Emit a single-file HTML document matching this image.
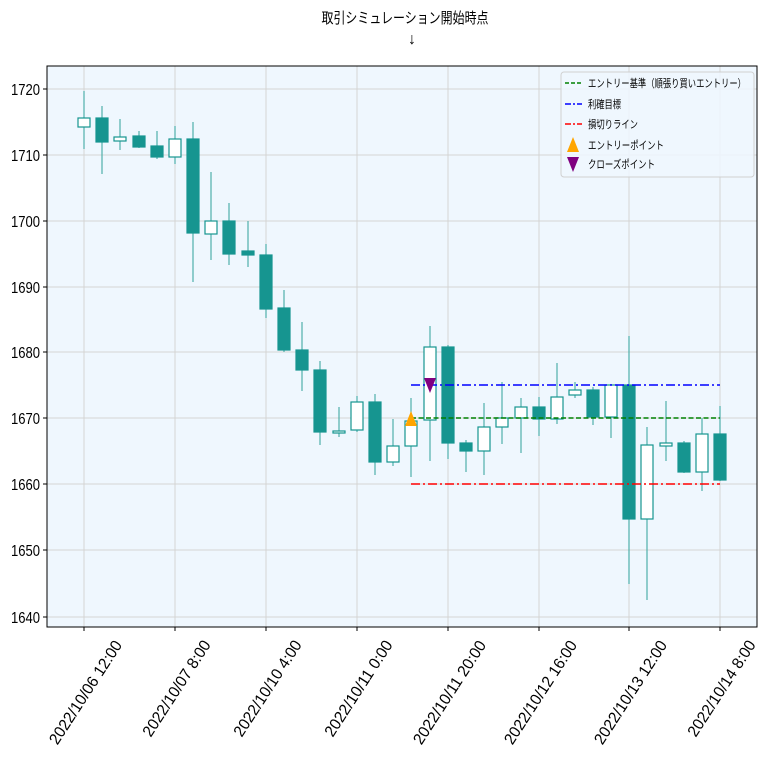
<!DOCTYPE html>
<html><head><meta charset="utf-8"><style>
html,body{margin:0;padding:0;background:#fff;}
svg{display:block;font-family:"Liberation Sans","Noto Sans CJK JP",sans-serif;}
</style></head><body>
<svg width="764" height="764" viewBox="0 0 764 764" xmlns="http://www.w3.org/2000/svg">
<rect x="0" y="0" width="764" height="764" fill="#fff"/>
<rect x="47" y="66" width="710" height="561" fill="#eff7fe"/>
<g stroke="#d4d4d4" stroke-width="1">
<line x1="47" x2="757" y1="89" y2="89"/><line x1="47" x2="757" y1="155" y2="155"/><line x1="47" x2="757" y1="221" y2="221"/><line x1="47" x2="757" y1="287" y2="287"/><line x1="47" x2="757" y1="352" y2="352"/><line x1="47" x2="757" y1="418" y2="418"/><line x1="47" x2="757" y1="484" y2="484"/><line x1="47" x2="757" y1="550" y2="550"/><line x1="47" x2="757" y1="617" y2="617"/>
<line y1="66" y2="627" x1="84" x2="84"/><line y1="66" y2="627" x1="175" x2="175"/><line y1="66" y2="627" x1="266" x2="266"/><line y1="66" y2="627" x1="357" x2="357"/><line y1="66" y2="627" x1="448" x2="448"/><line y1="66" y2="627" x1="539" x2="539"/><line y1="66" y2="627" x1="629" x2="629"/><line y1="66" y2="627" x1="720" x2="720"/>
</g>
<g stroke="#4fb0aa" stroke-width="1.2">
<line x1="84" x2="84" y1="91" y2="149"/><line x1="102" x2="102" y1="106" y2="174"/><line x1="120" x2="120" y1="119" y2="150"/><line x1="139" x2="139" y1="131" y2="148"/><line x1="157" x2="157" y1="131" y2="159"/><line x1="175" x2="175" y1="126" y2="164"/><line x1="193" x2="193" y1="122" y2="282"/><line x1="211" x2="211" y1="172" y2="260"/><line x1="229" x2="229" y1="203" y2="265"/><line x1="248" x2="248" y1="221" y2="267"/><line x1="266" x2="266" y1="244" y2="318"/><line x1="284" x2="284" y1="290" y2="352"/><line x1="302" x2="302" y1="322" y2="391"/><line x1="320" x2="320" y1="361" y2="445"/><line x1="339" x2="339" y1="407" y2="437"/><line x1="357" x2="357" y1="396" y2="432"/><line x1="375" x2="375" y1="394" y2="475"/><line x1="393" x2="393" y1="419" y2="466"/><line x1="411" x2="411" y1="398" y2="477"/><line x1="430" x2="430" y1="326" y2="461"/><line x1="448" x2="448" y1="345" y2="459"/><line x1="466" x2="466" y1="440" y2="472"/><line x1="484" x2="484" y1="403" y2="475"/><line x1="502" x2="502" y1="382" y2="444"/><line x1="521" x2="521" y1="398" y2="453"/><line x1="539" x2="539" y1="397" y2="436"/><line x1="557" x2="557" y1="363" y2="424"/><line x1="575" x2="575" y1="382" y2="398"/><line x1="593" x2="593" y1="387" y2="425"/><line x1="611" x2="611" y1="384" y2="438"/><line x1="629" x2="629" y1="336" y2="584"/><line x1="647" x2="647" y1="427" y2="600"/><line x1="666" x2="666" y1="401" y2="461"/><line x1="684" x2="684" y1="441" y2="473"/><line x1="702" x2="702" y1="418" y2="491"/><line x1="720" x2="720" y1="406" y2="481"/>
</g>
<g stroke="#169590" stroke-width="1.2">
<rect x="78" y="118" width="12" height="9" fill="#fff"/>
<rect x="96" y="118" width="12" height="24" fill="#169590"/>
<rect x="114" y="137" width="12" height="4" fill="#fff"/>
<rect x="133" y="136" width="12" height="11" fill="#169590"/>
<rect x="151" y="146" width="12" height="11" fill="#169590"/>
<rect x="169" y="139" width="12" height="18" fill="#fff"/>
<rect x="187" y="139" width="12" height="94" fill="#169590"/>
<rect x="205" y="221" width="12" height="13" fill="#fff"/>
<rect x="223" y="221" width="12" height="33" fill="#169590"/>
<rect x="242" y="251" width="12" height="4" fill="#169590"/>
<rect x="260" y="255" width="12" height="54" fill="#169590"/>
<rect x="278" y="308" width="12" height="42" fill="#169590"/>
<rect x="296" y="350" width="12" height="20" fill="#169590"/>
<rect x="314" y="370" width="12" height="62" fill="#169590"/>
<rect x="333" y="431" width="12" height="2" fill="#fff"/>
<rect x="351" y="402" width="12" height="28" fill="#fff"/>
<rect x="369" y="402" width="12" height="60" fill="#169590"/>
<rect x="387" y="446" width="12" height="16" fill="#fff"/>
<rect x="405" y="421" width="12" height="25" fill="#fff"/>
<rect x="424" y="347" width="12" height="73" fill="#fff"/>
<rect x="442" y="347" width="12" height="96" fill="#169590"/>
<rect x="460" y="443" width="12" height="8" fill="#169590"/>
<rect x="478" y="427" width="12" height="24" fill="#fff"/>
<rect x="496" y="418" width="12" height="9" fill="#fff"/>
<rect x="515" y="407" width="12" height="11" fill="#fff"/>
<rect x="533" y="407" width="12" height="12" fill="#169590"/>
<rect x="551" y="397" width="12" height="22" fill="#fff"/>
<rect x="569" y="390" width="12" height="5" fill="#fff"/>
<rect x="587" y="390" width="12" height="27" fill="#169590"/>
<rect x="605" y="385" width="12" height="32" fill="#fff"/>
<rect x="623" y="385" width="12" height="134" fill="#169590"/>
<rect x="641" y="445" width="12" height="74" fill="#fff"/>
<rect x="660" y="443" width="12" height="3" fill="#fff"/>
<rect x="678" y="443" width="12" height="29" fill="#169590"/>
<rect x="696" y="434" width="12" height="38" fill="#fff"/>
<rect x="714" y="434" width="12" height="46" fill="#169590"/>
</g>
<line x1="411" x2="720" y1="385" y2="385" stroke="#0000ff" stroke-width="1.6" stroke-dasharray="9,3,2,3"/>
<line x1="411" x2="720" y1="418" y2="418" stroke="#008000" stroke-width="1.6" stroke-dasharray="5,2.5"/>
<line x1="411" x2="720" y1="484" y2="484" stroke="#ff0000" stroke-width="1.6" stroke-dasharray="9,3,2,3"/>
<polygon points="411,411 405,426 417,426" fill="#ffa500"/>
<polygon points="424,378 436,378 430,393" fill="#800080"/>
<rect x="47" y="66" width="710" height="561" fill="none" stroke="#000" stroke-width="1"/>
<g stroke="#000" stroke-width="1">
<line x1="43" x2="47" y1="89" y2="89"/><line x1="43" x2="47" y1="155" y2="155"/><line x1="43" x2="47" y1="221" y2="221"/><line x1="43" x2="47" y1="287" y2="287"/><line x1="43" x2="47" y1="352" y2="352"/><line x1="43" x2="47" y1="418" y2="418"/><line x1="43" x2="47" y1="484" y2="484"/><line x1="43" x2="47" y1="550" y2="550"/><line x1="43" x2="47" y1="617" y2="617"/>
<line y1="627" y2="631" x1="84" x2="84"/><line y1="627" y2="631" x1="175" x2="175"/><line y1="627" y2="631" x1="266" x2="266"/><line y1="627" y2="631" x1="357" x2="357"/><line y1="627" y2="631" x1="448" x2="448"/><line y1="627" y2="631" x1="539" x2="539"/><line y1="627" y2="631" x1="629" x2="629"/><line y1="627" y2="631" x1="720" x2="720"/>
</g>
<g font-size="16" fill="#000" text-anchor="end">
<text x="40" y="95" textLength="29" lengthAdjust="spacingAndGlyphs">1720</text>
<text x="40" y="161" textLength="29" lengthAdjust="spacingAndGlyphs">1710</text>
<text x="40" y="227" textLength="29" lengthAdjust="spacingAndGlyphs">1700</text>
<text x="40" y="293" textLength="29" lengthAdjust="spacingAndGlyphs">1690</text>
<text x="40" y="358" textLength="29" lengthAdjust="spacingAndGlyphs">1680</text>
<text x="40" y="424" textLength="29" lengthAdjust="spacingAndGlyphs">1670</text>
<text x="40" y="490" textLength="29" lengthAdjust="spacingAndGlyphs">1660</text>
<text x="40" y="556" textLength="29" lengthAdjust="spacingAndGlyphs">1650</text>
<text x="40" y="623" textLength="29" lengthAdjust="spacingAndGlyphs">1640</text>
</g>
<g font-size="16" fill="#000" text-anchor="middle">
<text transform="translate(85,692) rotate(-57)" y="6" textLength="120" lengthAdjust="spacingAndGlyphs">2022/10/06 12:00</text>
<text transform="translate(176,688) rotate(-57)" y="6" textLength="111" lengthAdjust="spacingAndGlyphs">2022/10/07 8:00</text>
<text transform="translate(267,688) rotate(-57)" y="6" textLength="111" lengthAdjust="spacingAndGlyphs">2022/10/10 4:00</text>
<text transform="translate(358,688) rotate(-57)" y="6" textLength="111" lengthAdjust="spacingAndGlyphs">2022/10/11 0:00</text>
<text transform="translate(449,692) rotate(-57)" y="6" textLength="120" lengthAdjust="spacingAndGlyphs">2022/10/11 20:00</text>
<text transform="translate(540,692) rotate(-57)" y="6" textLength="120" lengthAdjust="spacingAndGlyphs">2022/10/12 16:00</text>
<text transform="translate(630,692) rotate(-57)" y="6" textLength="120" lengthAdjust="spacingAndGlyphs">2022/10/13 12:00</text>
<text transform="translate(721,688) rotate(-57)" y="6" textLength="111" lengthAdjust="spacingAndGlyphs">2022/10/14 8:00</text>
</g>
<text x="405" y="23" font-size="15" text-anchor="middle" textLength="167" lengthAdjust="spacingAndGlyphs">取引シミュレーション開始時点</text>
<text x="412" y="44" font-size="16" text-anchor="middle">↓</text>
<rect x="561" y="72" width="193" height="105" rx="3" fill="#eff7fe" fill-opacity="0.85" stroke="#d0d0d0"/>
<line x1="565" x2="582" y1="83" y2="83" stroke="#008000" stroke-width="1.6" stroke-dasharray="4,2"/>
<line x1="565" x2="582" y1="104" y2="104" stroke="#0000ff" stroke-width="1.6" stroke-dasharray="6,2,2,2"/>
<line x1="565" x2="582" y1="124" y2="124" stroke="#ff0000" stroke-width="1.6" stroke-dasharray="6,2,2,2"/>
<polygon points="573,137 567,152 579,152" fill="#ffa500"/>
<polygon points="567,157 579,157 573,172" fill="#800080"/>
<g font-size="11" fill="#000">
<text x="588" y="87" textLength="158" lengthAdjust="spacingAndGlyphs">エントリー基準（順張り買いエントリー）</text>
<text x="588" y="108" textLength="33" lengthAdjust="spacingAndGlyphs">利確目標</text>
<text x="588" y="128" textLength="50" lengthAdjust="spacingAndGlyphs">損切りライン</text>
<text x="588" y="149" textLength="76" lengthAdjust="spacingAndGlyphs">エントリーポイント</text>
<text x="588" y="168" textLength="67" lengthAdjust="spacingAndGlyphs">クローズポイント</text>
</g>
</svg>
</body></html>
